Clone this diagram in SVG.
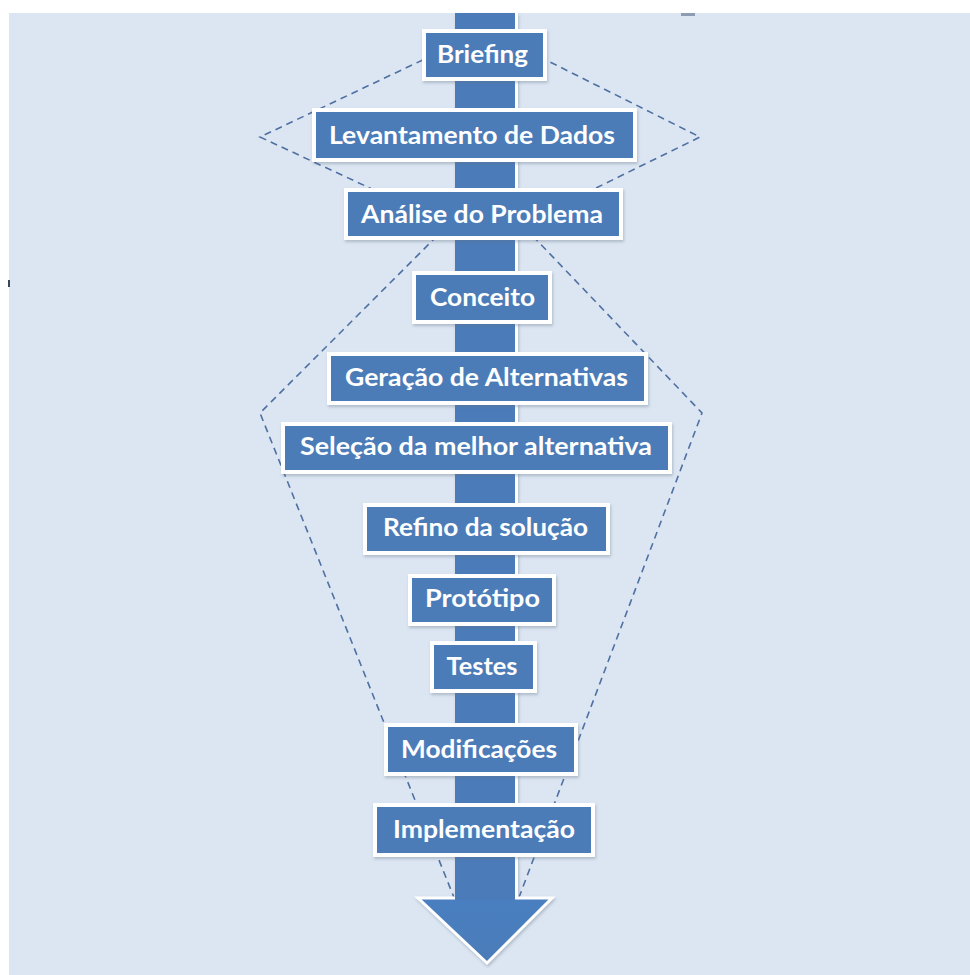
<svg xmlns="http://www.w3.org/2000/svg" width="970" height="975" viewBox="0 0 970 975">
  <defs>
    <filter id="sh" x="-10%" y="-20%" width="120%" height="150%">
      <feDropShadow dx="1" dy="2" stdDeviation="1.5" flood-color="#5a6b80" flood-opacity="0.35"/>
    </filter>
    <linearGradient id="arrowGrad" x1="0" y1="0" x2="0" y2="1">
      <stop offset="0" stop-color="#4a7fc0"/>
      <stop offset="1" stop-color="#4b7cb9"/>
    </linearGradient>
  </defs>
  <style>
    .box { fill: #4b7cb8; stroke: #ffffff; stroke-width: 4; filter: url(#sh); }
    .lbl { font-family: Lato, "Open Sans", "Liberation Sans", sans-serif; font-weight: 700; font-size: 24.5px; fill: #ffffff; text-anchor: middle; }
    .dash { fill: none; stroke: #4f70a3; stroke-width: 1.6; stroke-dasharray: 7 5; }
  </style>

  <rect x="0" y="0" width="970" height="975" fill="#ffffff"/>
  <rect x="9" y="13" width="961" height="962" fill="#dce6f2"/>
  <rect x="681" y="13" width="14" height="3" fill="#8d9cb3"/>
  <rect x="8" y="280" width="2" height="7" fill="#3c4658"/>

  <g id="connectors">
    <path class="dash" d="M486,30 L700,137 L486,242 L260,137 Z"/>
    <path class="dash" d="M455,900 L260,413 L486,187 L702,413 L518,900"/>
  </g>

  <g id="arrow" filter="url(#sh)">
    <polygon points="418,898 552,898 487,963" fill="url(#arrowGrad)" stroke="#ffffff" stroke-width="3" stroke-linejoin="miter"/>
    <rect x="455" y="13" width="60" height="887" fill="#4b7cb9"/>
    <line x1="516.5" y1="13" x2="516.5" y2="898" stroke="#ffffff" stroke-width="3"/>
  </g>

  <g id="n1"><rect class="box" x="424" y="31" width="121" height="48"/><text class="lbl" x="482.5" y="63" textLength="91" lengthAdjust="spacingAndGlyphs">Briefing</text></g>
  <g id="n2"><rect class="box" x="314" y="110" width="321" height="50"/><text class="lbl" x="472" y="144" textLength="286" lengthAdjust="spacingAndGlyphs">Levantamento de Dados</text></g>
  <g id="n3"><rect class="box" x="346" y="190" width="275" height="48"/><text class="lbl" x="482" y="223" textLength="242" lengthAdjust="spacingAndGlyphs">Análise do Problema</text></g>
  <g id="n4"><rect class="box" x="414" y="273" width="136" height="49"/><text class="lbl" x="482.5" y="306" textLength="105" lengthAdjust="spacingAndGlyphs">Conceito</text></g>
  <g id="n5"><rect class="box" x="329" y="354" width="317" height="49"/><text class="lbl" x="486.5" y="386" textLength="283" lengthAdjust="spacingAndGlyphs">Geração de Alternativas</text></g>
  <g id="n6"><rect class="box" x="283" y="424" width="387" height="48"/><text class="lbl" x="476" y="455" textLength="352" lengthAdjust="spacingAndGlyphs">Seleção da melhor alternativa</text></g>
  <g id="n7"><rect class="box" x="365" y="505" width="243" height="48"/><text class="lbl" x="485.5" y="536" textLength="205" lengthAdjust="spacingAndGlyphs">Refino da solução</text></g>
  <g id="n8"><rect class="box" x="410" y="576" width="144" height="48"/><text class="lbl" x="482.5" y="607" textLength="115" lengthAdjust="spacingAndGlyphs">Protótipo</text></g>
  <g id="n9"><rect class="box" x="432" y="643" width="103" height="48"/><text class="lbl" x="482" y="675" textLength="71" lengthAdjust="spacingAndGlyphs">Testes</text></g>
  <g id="n10"><rect class="box" x="386" y="725" width="190" height="49"/><text class="lbl" x="479" y="758" textLength="156" lengthAdjust="spacingAndGlyphs">Modificações</text></g>
  <g id="n11"><rect class="box" x="375" y="805" width="218" height="50"/><text class="lbl" x="484" y="838" textLength="182" lengthAdjust="spacingAndGlyphs">Implementação</text></g>
</svg>
